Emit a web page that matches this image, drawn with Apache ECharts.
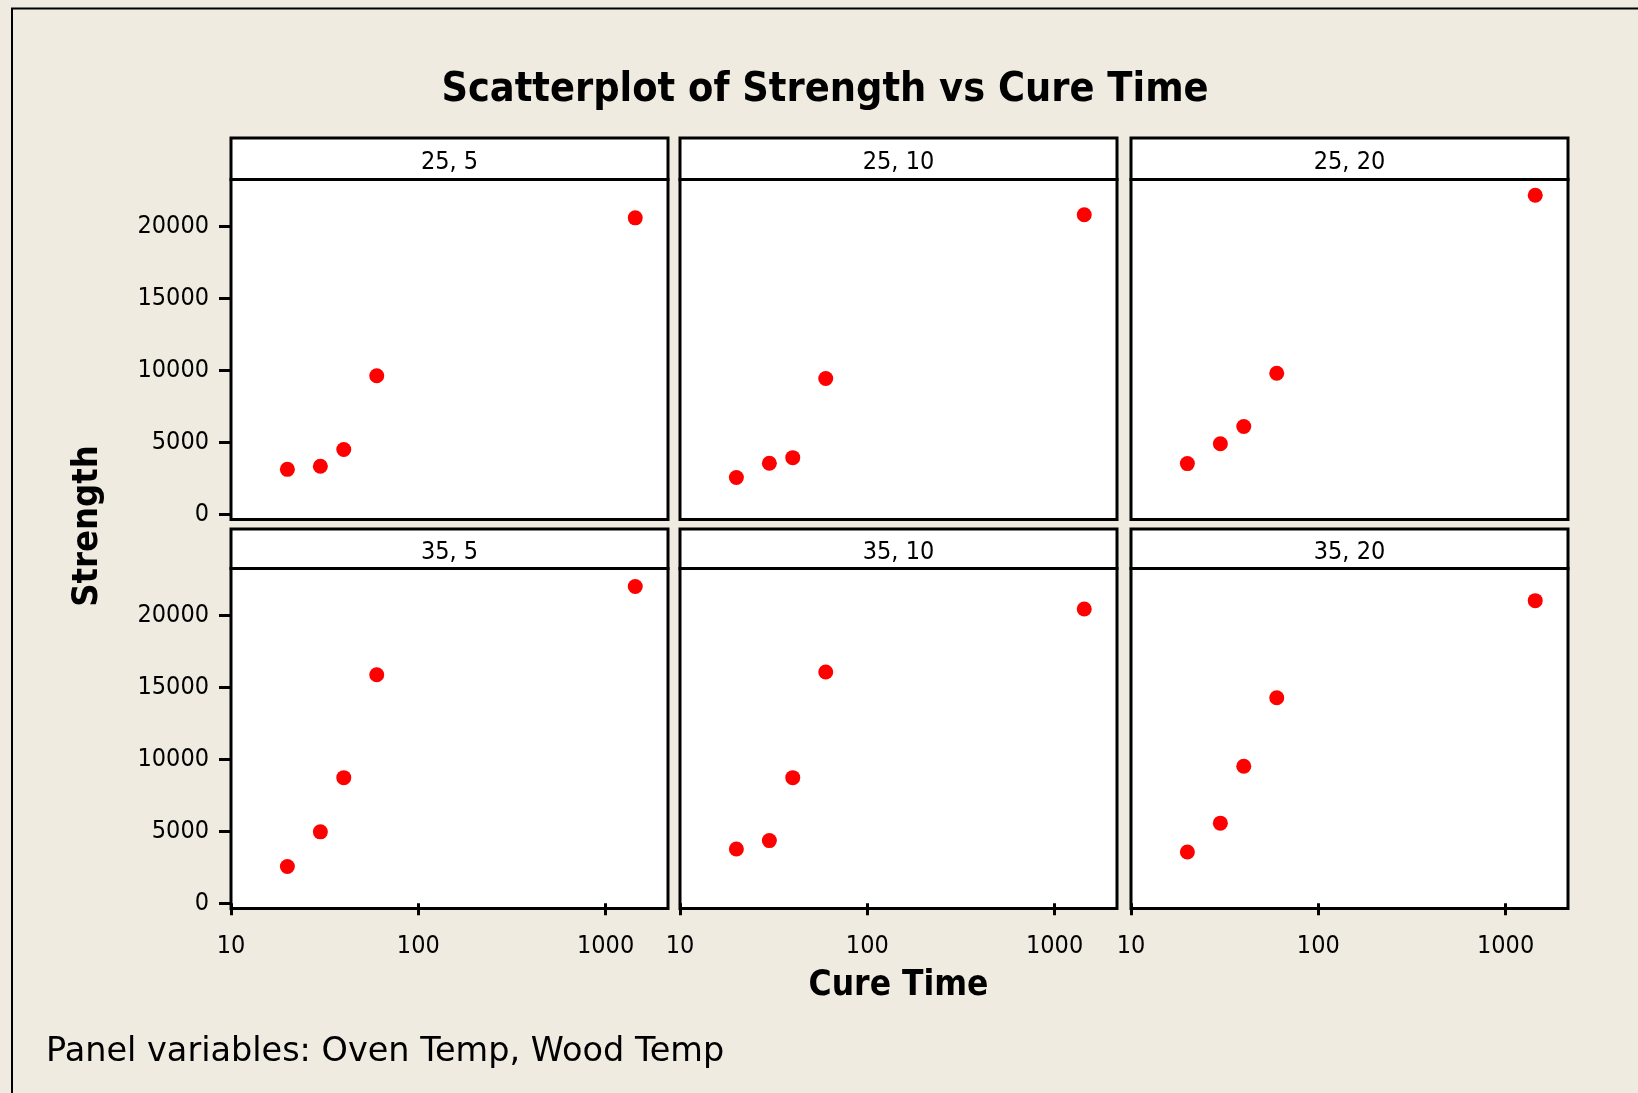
<!DOCTYPE html>
<html>
<head>
<meta charset="utf-8">
<script src="https://cdn.jsdelivr.net/npm/echarts@6/dist/echarts.min.js"></script>
<style>
html,body{margin:0;padding:0;background:#EFEBE1;}
#main{width:1638px;height:1093px;}
</style>
</head>
<body>
<div id="main"></div>
<script>
// ---- data ----
const cureTime = [20, 30, 40, 60, 1440];
const panelLabels = ['25, 5', '25, 10', '25, 20', '35, 5', '35, 10', '35, 20'];
const strength_25_5  = [3120, 3330, 4500, 9610, 20570];
const strength_25_10 = [2550, 3540, 3930, 9420, 20780];
const strength_25_20 = [3520, 4900, 6090, 9790, 22140];
const strength_35_5  = [2550, 4960, 8720, 15860, 21980];
const strength_35_10 = [3770, 4350, 8720, 16050, 20420];
const strength_35_20 = [3560, 5560, 9510, 14260, 21000];
const yTicks = [0, 5000, 10000, 15000, 20000];
const xTicks = [10, 100, 1000];
const titleText = 'Scatterplot of Strength vs Cure Time';
const xName = 'Cure Time';
const yName = 'Strength';
const footText = 'Panel variables: Oven Temp, Wood Temp';

const panelValues = [strength_25_5, strength_25_10, strength_25_20, strength_35_5, strength_35_10, strength_35_20];

// ---- layout ----
const FONT = '"DejaVu Sans Condensed", "Liberation Sans Narrow", "DejaVu Sans", sans-serif';
const FONT_WIDE = '"DejaVu Sans", sans-serif';
const colLeft = [231, 680, 1131];
const colWidth = 437;
const rowTop = [179.5, 568.5];
const rowHeight = 340;
const stripTop = [138, 529];
const Y_MIN = -360, Y_MAX = 23230;
const X_MIN = 10, X_MAX = 2154;

const grids = [], xAxes = [], yAxes = [], series = [], graphics = [];

graphics.push({
  type: 'rect', shape: { x: 12, y: 8.5, width: 1700, height: 1200 },
  style: { fill: 'none', stroke: '#000', lineWidth: 2 }, silent: true, z: 0
});

for (let i = 0; i < 6; i++) {
  const r = Math.floor(i / 3), c = i % 3;
  grids.push({
    left: colLeft[c], top: rowTop[r], width: colWidth, height: rowHeight,
    show: true, backgroundColor: '#fff', borderColor: '#000', borderWidth: 3
  });
  const bottomRow = r === 1, leftCol = c === 0;
  xAxes.push({
    type: 'log', logBase: 10, gridIndex: i, min: X_MIN, max: X_MAX,
    axisLine: { show: false },
    splitLine: { show: false },
    minorTick: { show: false },
    axisTick: { show: bottomRow, length: 12, inside: false, lineStyle: { color: '#000', width: 3 }, customValues: xTicks },
    axisLabel: { show: bottomRow, customValues: xTicks, color: '#000', fontFamily: FONT, fontSize: 25, margin: 25,
      formatter: v => String(Math.round(v)) }
  });
  yAxes.push({
    type: 'value', gridIndex: i, min: Y_MIN, max: Y_MAX,
    axisLine: { show: false },
    splitLine: { show: false },
    axisTick: { show: leftCol, length: 12, inside: false, lineStyle: { color: '#000', width: 3 }, customValues: yTicks },
    axisLabel: { show: leftCol, customValues: yTicks, color: '#000', fontFamily: FONT, fontSize: 25, margin: 22,
      formatter: v => String(Math.round(v)) }
  });
  series.push({
    type: 'scatter', xAxisIndex: i, yAxisIndex: i,
    symbol: 'circle', symbolSize: 15,
    itemStyle: { color: '#FF0000', opacity: 1 },
    data: cureTime.map((t, k) => [t, panelValues[i][k]]),
    z: 5
  });
  const sTop = stripTop[r];
  const sH = rowTop[r] - sTop;
  graphics.push({
    type: 'rect', shape: { x: colLeft[c], y: sTop, width: colWidth, height: sH },
    style: { fill: '#fff', stroke: '#000', lineWidth: 3 }, silent: true, z: 10
  });
  graphics.push({
    type: 'text', x: colLeft[c] + colWidth / 2, y: sTop + sH / 2 + 4,
    style: { text: panelLabels[i], fill: '#000', font: '25px ' + FONT, textAlign: 'center', textVerticalAlign: 'middle' },
    silent: true, z: 11
  });
}

graphics.push({
  type: 'text', x: 825, y: 90,
  style: { text: titleText, fill: '#000', font: 'bold 41px ' + FONT, textAlign: 'center', textVerticalAlign: 'middle' },
  silent: true, z: 11
});
graphics.push({
  type: 'text', x: 898.5, y: 986,
  style: { text: xName, fill: '#000', font: 'bold 35px ' + FONT, textAlign: 'center', textVerticalAlign: 'middle' },
  silent: true, z: 11
});
graphics.push({
  type: 'text', x: 88, y: 526, rotation: Math.PI / 2,
  style: { text: yName, fill: '#000', font: 'bold 36px ' + FONT, textAlign: 'center', textVerticalAlign: 'middle' },
  silent: true, z: 11
});
graphics.push({
  type: 'text', x: 46, y: 1052,
  style: { text: footText, fill: '#000', font: '33.5px ' + FONT_WIDE, textAlign: 'left', textVerticalAlign: 'middle' },
  silent: true, z: 11
});

const chart = echarts.init(document.getElementById('main'), null, { renderer: 'canvas' });
chart.setOption({
  backgroundColor: '#EFEBE1',
  animation: false,
  grid: grids,
  xAxis: xAxes,
  yAxis: yAxes,
  series: series,
  graphic: { elements: graphics }
});
</script>
</body>
</html>
